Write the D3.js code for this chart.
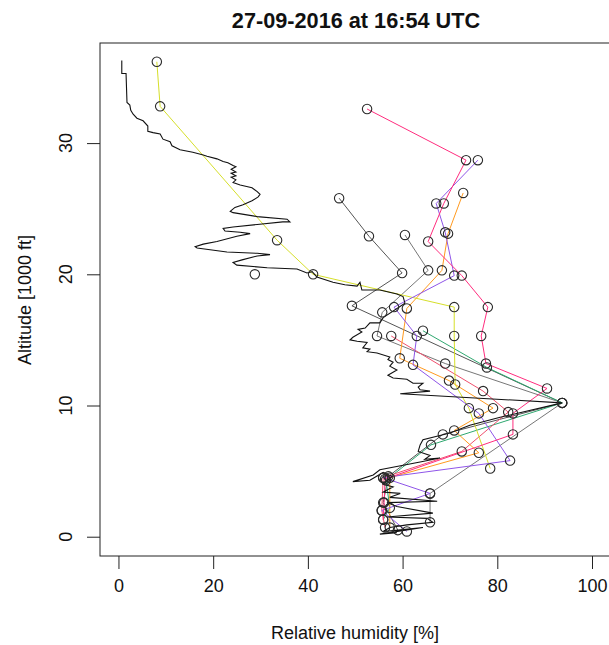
<!DOCTYPE html>
<html>
<head>
<meta charset="utf-8">
<script src="https://cdn.jsdelivr.net/npm/d3@7"></script>
<style>
  body { margin: 0; background: #fff; }
  text { font-family: "Liberation Sans", Arial, sans-serif; }
</style>
</head>
<body>
<svg></svg>
<script>
var width = 609, height = 645;

// radiosonde profile: [relative humidity %, altitude 1000 ft]
var sonde = [
  [0.7,36.3],[0.7,35.3],[1.6,35.3],[1.8,33.1],[2.4,32.9],[2.6,32.5],[3.1,32.2],[3.9,31.9],
  [5.2,31.7],[6.2,31.3],[6.2,30.9],[7.3,30.8],[8.8,30.7],[9.4,30.3],[10.9,30.1],[11.3,29.8],
  [13.0,29.5],[15.7,29.3],[17.9,29.1],[18.7,29.0],[20.8,28.8],[22.1,28.6],[23.1,28.5],[24.2,28.3],
  [24.8,28.2],[23.8,28.0],[24.8,27.8],[23.8,27.7],[24.8,27.5],[23.8,27.4],[24.8,27.2],[24.2,27.0],
  [25.7,26.8],[28.2,26.6],[29.3,26.3],[29.9,26.1],[29.5,25.9],[28.2,25.6],[26.3,25.3],[24.6,25.1],
  [23.6,24.8],[24.2,24.7],[29.3,24.4],[35.6,24.2],[36.2,24.0],[34.7,24.0],[29.3,23.8],[24.2,23.6],
  [22.1,23.5],[22.5,23.3],[25.7,23.2],[27.8,23.1],[25.0,22.9],[20.8,22.5],[17.9,22.3],[16.2,22.1],
  [16.6,22.0],[22.9,21.7],[29.3,21.6],[32.0,21.5],[29.3,21.4],[26.1,21.1],[24.2,20.9],[25.0,20.7],
  [31.4,20.5],[37.7,20.4],[39.8,20.1],[40.9,20.2],[41.9,19.8],[45.3,19.4],[47.8,19.2],[50.4,19.1],
  [51.0,19.4],[51.4,18.8],[55.2,18.8],[58.8,18.5],[60.1,18.3],[60.5,17.8],[55.9,16.7],[55.2,16.3],
  [53.1,16.3],[52.1,15.9],[50.6,15.8],[51.4,15.6],[49.5,15.2],[48.9,15.0],[50.4,14.9],[52.5,14.8],
  [51.6,14.4],[53.1,14.3],[52.5,14.1],[54.6,14.0],[57.3,13.7],[56.9,13.5],[58.0,13.3],[57.3,13.0],
  [58.8,12.7],[56.9,12.3],[58.0,12.1],[60.9,12.0],[62.2,11.7],[64.3,11.7],[63.3,11.4],[63.7,11.2],
  [65.8,11.1],[59.5,10.9],[93.7,10.2],[80.6,9.1],[74.2,8.5],[70.0,7.9],[64.3,7.4],[63.7,7.0],
  [63.3,6.5],[65.8,6.2],[64.7,5.9],[67.9,6.0],[63.7,5.7],[55.2,5.1],[53.8,4.7],[49.5,4.2],
  [53.1,4.3],[55.9,4.9],[57.8,4.6],[55.9,4.0],[58.0,3.8],[55.9,3.4],[59.5,3.3],[57.3,3.0],
  [67.3,2.7],[56.7,2.6],[58.8,2.3],[66.4,1.8],[56.7,1.5],[65.2,1.4],[66.4,1.1],[60.9,0.9],
  [57.3,0.7],[55.9,0.4],[64.3,0.7],[55.2,0.2],[58.8,0.3]
];

// aircraft observations
var yellowObs = [[8.1,36.2],[8.8,32.8],[33.5,22.6],[41.1,20.0],[70.9,17.5],[70.9,15.3],[71.1,11.6],[74.0,9.8],[78.5,5.2]];
var pinkObs = [[52.5,32.6],[73.4,28.7],[68.7,25.4],[65.4,22.5],[72.5,19.9],[78.0,17.5],[76.6,15.3],[77.6,13.2],[90.5,11.3],[83.3,9.4],[83.3,7.8],[56.3,4.4],[56.1,2.6],[55.9,1.3]];
var purpleObs = [[75.9,28.7],[67.1,25.4],[69.0,23.2],[70.9,19.9],[58.2,17.5],[63.0,15.3],[62.2,13.1],[76.1,9.4],[82.7,5.8],[55.9,4.5],[65.8,3.3],[55.6,2.0],[60.9,0.4]];
var orangeObs = [[72.8,26.2],[69.6,23.1],[68.3,20.3],[60.9,17.4],[59.4,13.6],[69.8,11.9],[79.1,9.8],[70.9,8.1],[76.1,6.4],[57.3,4.5],[57.3,0.7]];
var greyObsA = [[46.6,25.8],[52.9,22.9],[59.9,20.1],[49.3,17.6],[93.7,10.2],[68.5,7.8],[57.0,4.6],[55.9,2.6],[59.0,0.5]];
var greyObsB = [[60.5,23.0],[65.4,20.3],[55.7,17.1],[54.6,15.3],[69.0,13.2],[93.7,10.2],[65.8,3.3],[65.8,1.1]];
var redObs = [[57.6,15.3],[77.0,11.1],[82.3,9.5],[72.5,6.5],[55.9,4.5],[55.6,2.0],[56.3,0.7]];
var greenObs = [[64.3,15.7],[77.8,12.9],[93.7,10.2],[66.0,7.0],[56.5,4.3],[57.3,2.2],[55.9,1.3]];
var singleObs = [[28.8,20.0]];

var flights = [greyObsA, greyObsB, greenObs, redObs, orangeObs, yellowObs, purpleObs, pinkObs, singleObs];
var flightColors = ["#555555", "#777777", "#2fa870", "#f0506e", "#ff9a1f", "#d6df2a", "#8f55e8", "#ff2d7e", "#444444"];

var xTicks = [0, 20, 40, 60, 80, 100];
var yTicks = [0, 10, 20, 30];

var svg = d3.select("svg").attr("width", width).attr("height", height);

var xScale = d3.scaleLinear().domain([-3.9, 103.8]).range([100, 610]);
var yScale = d3.scaleLinear().domain([-1.47, 37.63]).range([556, 43]);

var line = d3.line().x(d => xScale(d[0])).y(d => yScale(d[1]));

// flight lines
svg.append("g")
  .selectAll("path")
  .data(flights)
  .enter()
  .append("path")
  .attr("d", line)
  .attr("fill", "none")
  .attr("stroke", (d, i) => flightColors[i])
  .attr("stroke-width", 1);

// sonde
svg.append("path")
  .datum(sonde)
  .attr("d", line)
  .attr("fill", "none")
  .attr("stroke", "#111")
  .attr("stroke-width", 1.1);

// observation circles
svg.append("g")
  .selectAll("circle")
  .data(flights.flat())
  .enter()
  .append("circle")
  .attr("cx", d => xScale(d[0]))
  .attr("cy", d => yScale(d[1]))
  .attr("r", 4.7)
  .attr("fill", "none")
  .attr("stroke", "#2a2a2a")
  .attr("stroke-width", 1.1);

// box (right edge falls outside the window)
svg.append("rect")
  .attr("x", 100).attr("y", 43)
  .attr("width", 515).attr("height", 513)
  .attr("fill", "none")
  .attr("stroke", "#222")
  .attr("stroke-width", 1);

var xAxis = d3.axisBottom(xScale).tickValues(xTicks).tickSize(13).tickPadding(10);
var gx = svg.append("g")
  .attr("transform", "translate(0,556)")
  .call(xAxis);
gx.select(".domain").remove();
gx.selectAll("text").style("font-size", "18px").attr("fill", "#111");
gx.selectAll("line").attr("stroke", "#222");

var yAxis = d3.axisLeft(yScale).tickValues(yTicks).tickSize(13).tickFormat("");
var gy = svg.append("g")
  .attr("transform", "translate(100,0)")
  .call(yAxis);
gy.select(".domain").remove();
gy.selectAll("line").attr("stroke", "#222");

svg.append("g")
  .selectAll("text")
  .data(yTicks)
  .enter()
  .append("text")
  .attr("transform", d => "translate(72," + yScale(d) + ") rotate(-90)")
  .attr("text-anchor", "middle")
  .style("font-size", "18px")
  .attr("fill", "#111")
  .text(d => d);

svg.append("text")
  .attr("x", 356)
  .attr("y", 28)
  .attr("text-anchor", "middle")
  .style("font-size", "21.7px")
  .style("font-weight", "bold")
  .attr("fill", "#111")
  .text("27-09-2016 at 16:54 UTC");

svg.append("text")
  .attr("x", 355)
  .attr("y", 639)
  .attr("text-anchor", "middle")
  .style("font-size", "18px")
  .attr("fill", "#111")
  .text("Relative humidity [%]");

svg.append("text")
  .attr("transform", "translate(31,300) rotate(-90)")
  .attr("text-anchor", "middle")
  .style("font-size", "18px")
  .attr("fill", "#111")
  .text("Altitude [1000 ft]");
</script>
</body>
</html>
